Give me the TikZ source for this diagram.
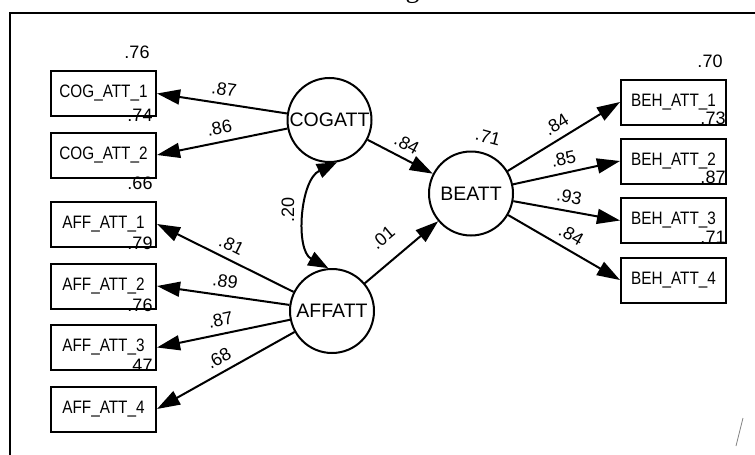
\documentclass[tikz,border=0pt]{standalone}
\usepackage{fontspec}
\setmainfont{Liberation Sans}
\newfontfamily\boxfont[FakeStretch=0.85]{Liberation Sans}
\newfontfamily\titlefont{Liberation Serif}
\usetikzlibrary{arrows.meta}
\begin{document}
\begin{tikzpicture}[x=1pt,y=-1pt,
  obs/.style={draw, line width=2pt, minimum width=105pt, minimum height=45pt, inner sep=0pt, font=\boxfont\fontsize{18}{20}\selectfont},
  lat/.style={draw, circle, line width=2pt, minimum size=84pt, inner sep=0pt, font=\fontsize{19.5}{21}\selectfont},
  num/.style={font=\fontsize{18}{20}\selectfont, inner sep=0pt},
  arr/.style={line width=2pt, -{Triangle[length=23pt,width=15pt]}},
  lab/.style={font=\fontsize{18}{20}\selectfont, sloped, above=7pt, inner sep=0pt}
]
\useasboundingbox (0,0) rectangle (755,455);
\clip (0,0) rectangle (755,455);
% clipped title (only the lower edge shows)
\node[anchor=base, font=\titlefont\fontsize{28}{30}\selectfont, inner sep=0pt] (title) at (410,-2) {Model of Created the Cognitive Attitudes of Hotel};
% frame
\draw[line width=2pt] (10,470) -- (10,13) -- (770,13);
% observed variables
\node[obs] (c1) at (103.5,93.5) {COG\_ATT\_1};
\node[obs] (c2) at (103.5,155) {COG\_ATT\_2};
\node[obs] (a1) at (103.5,224) {AFF\_ATT\_1};
\node[obs] (a2) at (103.5,286) {AFF\_ATT\_2};
\node[obs] (a3) at (103.5,347.5) {AFF\_ATT\_3};
\node[obs] (a4) at (103.5,409) {AFF\_ATT\_4};
\node[obs] (b1) at (673.5,102) {BEH\_ATT\_1};
\node[obs] (b2) at (673.5,161) {BEH\_ATT\_2};
\node[obs] (b3) at (673.5,220.5) {BEH\_ATT\_3};
\node[obs] (b4) at (673.5,280) {BEH\_ATT\_4};
% latent variables
\node[lat] (cog) at (329.5,120) {COGATT};
\node[lat] (aff) at (332,311) {AFFATT};
\node[lat] (beh) at (471,193.5) {BEATT};
% residual / R2 labels
\node[num] (rc1) at (137,52) {.76};
\node[num] (rc2) at (140,115) {.74};
\node[num] (ra1) at (140,183) {.66};
\node[num] (ra2) at (140,243) {.79};
\node[num] (ra3) at (140,305) {.76};
\node[num] (ra4) at (140,365) {.47};
\node[num] (rb1) at (710,61) {.70};
\node[num] (rb2) at (713,118) {.73};
\node[num] (rb3) at (713,177) {.87};
\node[num] (rb4) at (713,237) {.71};
\node[num, rotate=-15] (rbe) at (488,137) {.71};
% paths
\draw[arr] (cog) -- node[lab]{.87} (c1.east);
\draw[arr] (cog) -- node[lab]{.86} (c2.east);
\draw[arr] (aff) -- node[lab]{.81} (a1.east);
\draw[arr] (aff) -- node[lab]{.89} (a2.east);
\draw[arr] (aff) -- node[lab]{.87} (a3.east);
\draw[arr] (aff) -- node[lab]{.68} (a4.east);
\draw[arr] (beh) -- node[lab]{.84} (b1.west);
\draw[arr] (beh) -- node[lab]{.85} (b2.west);
\draw[arr] (beh) -- node[lab]{.93} (b3.west);
\draw[arr] (beh) -- node[lab]{.84} (b4.west);
\draw[arr] (cog) -- node[lab]{.84} (beh);
\draw[arr] (aff) -- node[lab, pos=0.45, above=9pt]{.01} (beh);
% correlation
\draw[line width=2pt, {Triangle[length=20pt,width=15pt]}-{Triangle[length=20pt,width=15pt]}]
  (cog.-80) .. controls (300,180) and (295,250) .. (aff.95);
\node[num, rotate=90] (corr) at (288,210) {.20};
% stray mark
\draw[gray, line width=0.8pt] (743,418) -- (736,446);
\end{tikzpicture}
\end{document}
